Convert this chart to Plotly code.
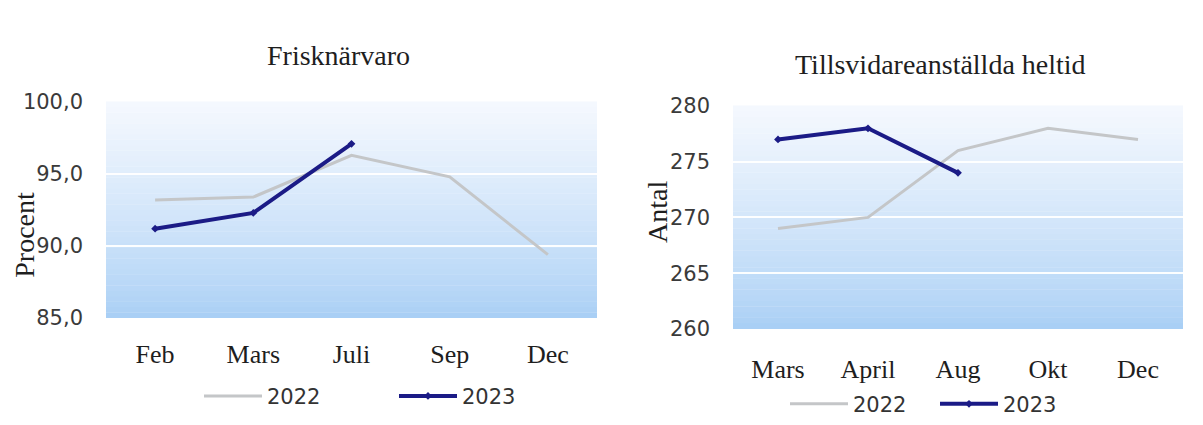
import plotly.graph_objects as go

# Frisknärvaro (procent)
months_left = ['Feb', 'Mars', 'Juli', 'Sep', 'Dec']
frisk_2022 = [93.2, 93.4, 96.3, 94.8, 89.4]
frisk_2023 = [91.2, 92.3, 97.1]

# Tillsvidareanställda heltid (antal)
months_right = ['Mars', 'April', 'Aug', 'Okt', 'Dec']
tills_2022 = [269, 270, 276, 278, 277]
tills_2023 = [277, 278, 274]

SERIF = 'Liberation Serif'
SANS = 'DejaVu Sans'
GREY = '#c4c6c8'
NAVY = '#1b1b86'


def lerp_color(c0, c1, t):
    a = [int(c0[i:i + 2], 16) for i in (1, 3, 5)]
    b = [int(c1[i:i + 2], 16) for i in (1, 3, 5)]
    return 'rgb(%d,%d,%d)' % tuple(round(a[k] + (b[k] - a[k]) * t) for k in range(3))


def gradient(xref, yref, n=40, bottom='#a9cff5', top='#f6f9fe'):
    shapes = []
    for i in range(n):
        shapes.append(dict(type='rect', xref=xref, yref=yref, x0=0, x1=1,
                           y0=i / n, y1=(i + 1) / n + 0.002, layer='below',
                           line=dict(width=0),
                           fillcolor=lerp_color(bottom, top, (i / n) ** 0.8)))
    return shapes


def label(text, x, y, angle=0):
    return dict(text=text, x=x / W, y=1 - y / H, xref='paper', yref='paper',
                xanchor='center', yanchor='middle', textangle=angle, showarrow=False,
                font=dict(family=SERIF, size=28, color='#1e1e1e'))


fig = go.Figure()

fig.add_trace(go.Scatter(x=months_left, y=frisk_2022, name='2022', mode='lines',
                         line=dict(color=GREY, width=3), xaxis='x', yaxis='y',
                         legend='legend'))
fig.add_trace(go.Scatter(x=months_left[:len(frisk_2023)], y=frisk_2023, name='2023',
                         mode='lines+markers', line=dict(color=NAVY, width=4),
                         marker=dict(size=6, symbol='diamond', color=NAVY),
                         xaxis='x', yaxis='y', legend='legend'))
fig.add_trace(go.Scatter(x=months_right, y=tills_2022, name='2022', mode='lines',
                         line=dict(color=GREY, width=3), xaxis='x2', yaxis='y2',
                         legend='legend2'))
fig.add_trace(go.Scatter(x=months_right[:len(tills_2023)], y=tills_2023, name='2023',
                         mode='lines+markers', line=dict(color=NAVY, width=4),
                         marker=dict(size=6, symbol='diamond', color=NAVY),
                         xaxis='x2', yaxis='y2', legend='legend2'))

W, H = 1203, 425
xaxis_common = dict(type='category', showgrid=False, showline=False, ticks='',
                    zeroline=False, automargin=False,
                    tickfont=dict(family=SERIF, size=26, color='#1e1e1e'))
yaxis_common = dict(showgrid=True, gridcolor='rgba(255,255,255,0.95)', gridwidth=2,
                    zeroline=False, showline=False, ticks='', ticklabelstandoff=22,
                    automargin=False,
                    tickfont=dict(family=SANS, size=21, color='#3a3a3a'))

legend_common = dict(orientation='h', xanchor='left', yanchor='middle', itemwidth=58,
                     bgcolor='rgba(0,0,0,0)',
                     font=dict(family=SANS, size=21, color='#333333'))

fig.update_layout(
    template='none',
    width=W, height=H,
    margin=dict(l=0, r=0, t=0, b=0),
    paper_bgcolor='white', plot_bgcolor='rgba(0,0,0,0)',
    separators=', ',
    xaxis=dict(xaxis_common, domain=[106 / W, 597 / W], anchor='y',
               categoryorder='array', categoryarray=months_left,
               range=[-0.5, len(months_left) - 0.5], ticklabelstandoff=18),
    yaxis=dict(yaxis_common, domain=[1 - 321 / H, 1 - 103 / H], anchor='x',
               range=[85, 100], dtick=5, tickformat='.1f'),
    xaxis2=dict(xaxis_common, domain=[733 / W, 1183 / W], anchor='y2',
                categoryorder='array', categoryarray=months_right,
                range=[-0.5, len(months_right) - 0.5], ticklabelstandoff=22),
    yaxis2=dict(yaxis_common, domain=[1 - 332 / H, 1 - 107 / H], anchor='x2',
                range=[260, 280], dtick=5),
    legend=dict(legend_common, x=199 / W, y=1 - 400 / H, entrywidth=122),
    legend2=dict(legend_common, x=785 / W, y=1 - 408 / H, entrywidth=77),
    shapes=gradient('x domain', 'y domain') + gradient('x2 domain', 'y2 domain'),
    annotations=[
        label('Frisknärvaro', 338, 56),
        label('Tillsvidareanställda heltid', 940, 65),
        label('Procent', 25, 237, -90),
        label('Antal', 658, 214, -90),
    ],
)

fig.write_html('out.html', config={'displayModeBar': False},
               post_script="document.body.style.margin='0';")
